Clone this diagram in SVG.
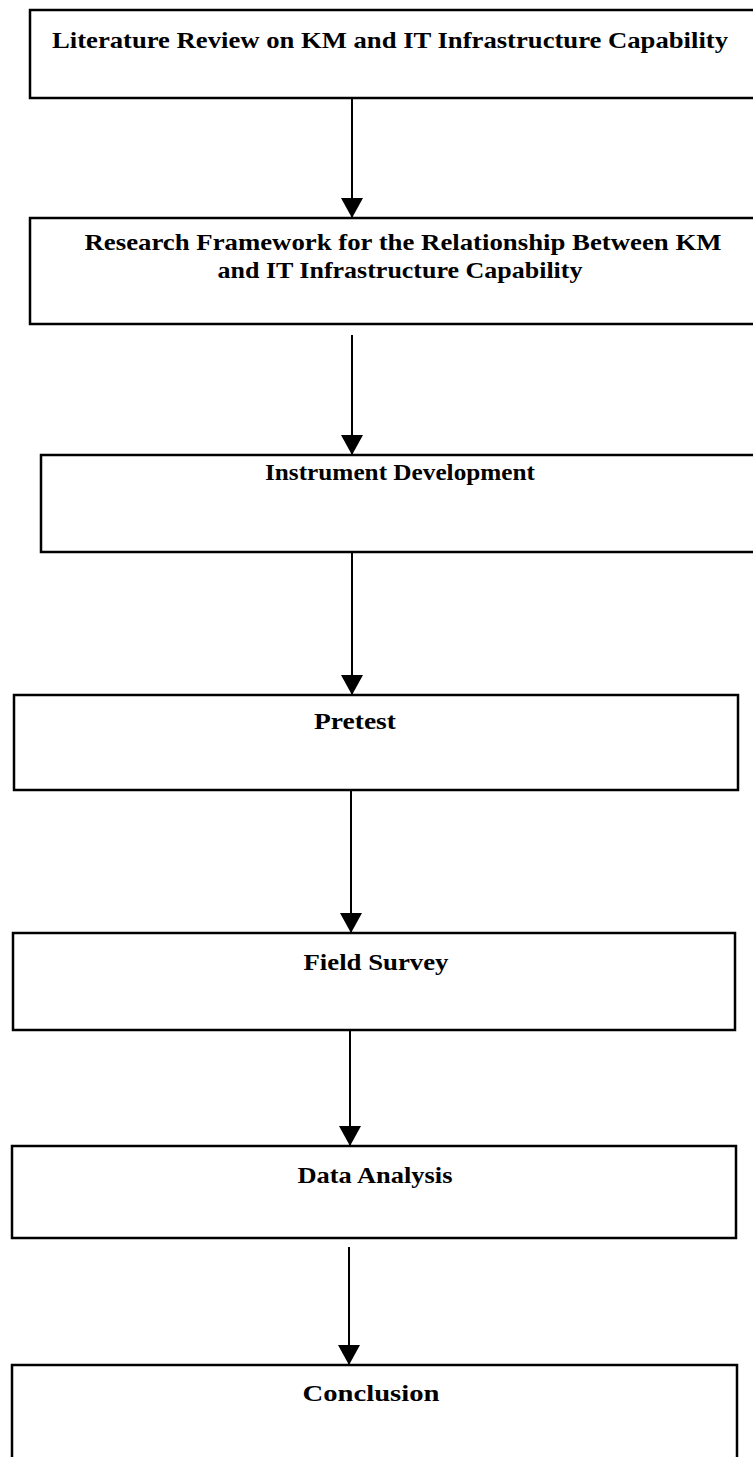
<svg xmlns="http://www.w3.org/2000/svg" width="753" height="1457" viewBox="0 0 753 1457">
<defs>
<style>
.box{fill:#fff;stroke:#000;stroke-width:2.5}
.lbl{font-family:"Liberation Serif","Times New Roman",serif;font-weight:bold;font-size:23px;fill:#000;text-anchor:middle}
.con{stroke:#000;stroke-width:2;fill:none}
</style>
<marker id="ah2" markerUnits="userSpaceOnUse" markerWidth="22" markerHeight="22" refX="20" refY="11" orient="auto" viewBox="0 0 22 22">
<path d="M0,0 L20,11 L0,22 Z" fill="#000"/>
</marker>
</defs>
<rect width="753" height="1457" fill="#fff"/>
<g id="n1"><rect class="box" x="30" y="10" width="740" height="88"/><text class="lbl" x="390" y="48" textLength="676" lengthAdjust="spacingAndGlyphs">Literature Review on KM and IT Infrastructure Capability</text></g>
<g id="n2"><rect class="box" x="30" y="218" width="740" height="106"/><text class="lbl" x="403" y="250" textLength="637" lengthAdjust="spacingAndGlyphs">Research Framework for the Relationship Between KM</text><text class="lbl" x="400" y="278" textLength="365" lengthAdjust="spacingAndGlyphs">and IT Infrastructure Capability</text></g>
<g id="n3"><rect class="box" x="41" y="455" width="730" height="97"/><text class="lbl" x="400" y="480" textLength="270" lengthAdjust="spacingAndGlyphs">Instrument Development</text></g>
<g id="n4"><rect class="box" x="14" y="695" width="724" height="95"/><text class="lbl" x="355" y="729" textLength="82" lengthAdjust="spacingAndGlyphs">Pretest</text></g>
<g id="n5"><rect class="box" x="13" y="933" width="722" height="97"/><text class="lbl" x="376" y="970" textLength="145" lengthAdjust="spacingAndGlyphs">Field Survey</text></g>
<g id="n6"><rect class="box" x="12" y="1146" width="724" height="92"/><text class="lbl" x="375" y="1183" textLength="155" lengthAdjust="spacingAndGlyphs">Data Analysis</text></g>
<g id="n7"><rect class="box" x="12" y="1365" width="725" height="110"/><text class="lbl" x="371" y="1401" textLength="137" lengthAdjust="spacingAndGlyphs">Conclusion</text></g>
<g id="connectors">
<line class="con" x1="352" y1="98" x2="352" y2="218" marker-end="url(#ah2)"/>
<line class="con" x1="352" y1="335" x2="352" y2="455" marker-end="url(#ah2)"/>
<line class="con" x1="352" y1="552" x2="352" y2="695" marker-end="url(#ah2)"/>
<line class="con" x1="351" y1="790" x2="351" y2="933" marker-end="url(#ah2)"/>
<line class="con" x1="350" y1="1030" x2="350" y2="1146" marker-end="url(#ah2)"/>
<line class="con" x1="349" y1="1247" x2="349" y2="1365" marker-end="url(#ah2)"/>
</g>
</svg>
